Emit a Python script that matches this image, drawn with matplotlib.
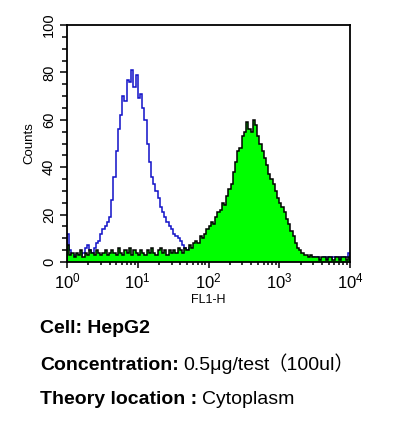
import numpy as np
import matplotlib
matplotlib.use("Agg")
import matplotlib.pyplot as plt
from matplotlib.ticker import FixedLocator, MultipleLocator, LogLocator, NullFormatter

plt.rcParams['font.family'] = ['Liberation Sans', 'Noto Sans CJK SC', 'DejaVu Sans']

# histogram channels, 32 per decade from 10^0 to 10^4
channels_per_decade = 32

# isotype control (blue outline)
blue = [12, 5, 3, 2, 3, 2, 3, 4, 6, 7, 5, 4, 6, 8, 9, 12,
        14, 15, 17, 19, 26, 36, 47, 56, 62, 70, 68, 77, 76, 81, 74, 79,
        69, 71, 65, 60, 50, 42, 36, 33, 30, 27, 23, 21, 19, 17, 15, 14,
        12, 11, 10, 9, 7, 6, 5, 6, 4, 3, 2, 3, 2, 1, 2, 1,
        1, 0, 1, 1, 0, 1, 0, 1, 1, 0, 1, 0, 0, 1, 0, 1,
        0, 1, 0, 0, 1, 0, 1, 0, 0, 1, 0, 0, 1, 0, 1, 0,
        0, 1, 0, 1, 0, 0, 1, 0, 1, 1, 0, 1, 1, 2, 1, 2,
        1, 2, 1, 1, 2, 1, 2, 1, 2, 2, 1, 2, 1, 2, 2, 4]

# stained sample (green filled)
green = [7, 3, 4, 2, 4, 3, 5, 2, 4, 3, 5, 4, 3, 5, 4, 3,
         4, 5, 3, 4, 5, 4, 3, 6, 4, 3, 5, 4, 6, 3, 5, 4,
         3, 5, 4, 3, 5, 4, 6, 4, 3, 5, 6, 4, 5, 3, 5, 4,
         5, 4, 6, 5, 4, 6, 5, 7, 6, 8, 9, 8, 11, 10, 12, 14,
         15, 17, 16, 19, 21, 22, 25, 24, 28, 31, 33, 38, 42, 47, 48, 53,
         55, 59, 56, 55, 60, 58, 53, 50, 47, 44, 41, 37, 35, 33, 30, 27,
         25, 23, 21, 18, 16, 13, 11, 8, 6, 5, 4, 3, 3, 2, 3, 2,
         2, 2, 1, 2, 2, 1, 2, 2, 1, 2, 2, 1, 2, 2, 1, 2]

y_ticks = [0, 20, 40, 60, 80, 100]
x_ticks = [1, 10, 100, 1000, 10000]

edges = 10 ** (np.arange(len(green) + 1) / channels_per_decade)

fig = plt.figure(figsize=(3.93, 4.38), dpi=100)
ax = fig.add_axes([67 / 393, 1 - 262 / 438, 283 / 393, 237 / 438])

ax.stairs(blue, edges, color='#1010c8', lw=1.1, zorder=1)
ax.stairs(green, edges, fill=True, color='#00ff00', zorder=2)
ax.stairs(green, edges, color='black', lw=1.1, zorder=3)

ax.set_xscale('log')
ax.set_xlim(1, 10000)
ax.set_ylim(0, 100)

ax.xaxis.set_major_locator(FixedLocator(x_ticks))
ax.xaxis.set_minor_locator(LogLocator(base=10, subs=np.arange(2, 10)))
ax.xaxis.set_minor_formatter(NullFormatter())
ax.yaxis.set_major_locator(FixedLocator(y_ticks))
ax.yaxis.set_minor_locator(MultipleLocator(5))

ax.tick_params(axis='x', which='major', length=4, width=1.1, labelsize=12, pad=2.5)
ax.tick_params(axis='x', which='minor', length=2.5, width=1.1)
ax.tick_params(axis='y', which='major', length=5, width=1.1, labelsize=10.5,
               labelrotation=90, pad=3)
ax.tick_params(axis='y', which='minor', length=3.5, width=1.1)
for lab in ax.get_yticklabels():
    lab.set_va('center')

for s in ax.spines.values():
    s.set_linewidth(1.3)

ax.set_xlabel('FL1-H', fontsize=9)
ax.xaxis.set_label_coords(0.5, -0.135)
ax.set_ylabel('Counts', fontsize=9.5)
ax.yaxis.set_label_coords(-0.11, 0.5)

# annotation lines under the plot: (text, bold, gap before in px)
lines = [([("Cell: HepG2", True, 0)], 333),
         ([("Concentration:", True, 0), ("0.5\u03bcg/test", False, 5),
           ("\uff08100ul\uff09", False, -3)], 370),
         ([("Theory location :", True, 0), ("Cytoplasm", False, 5)], 404)]

fig.canvas.draw()
renderer = fig.canvas.get_renderer()
for parts, ypix in lines:
    xpix = 40
    for txt, bold, gap in parts:
        xpix += gap
        t = fig.text(xpix / 393, 1 - ypix / 438, txt, fontsize=14,
                     fontweight='bold' if bold else 'normal',
                     va='baseline', ha='left')
        xpix = t.get_window_extent(renderer).x1

plt.savefig('out.png', dpi=100)
